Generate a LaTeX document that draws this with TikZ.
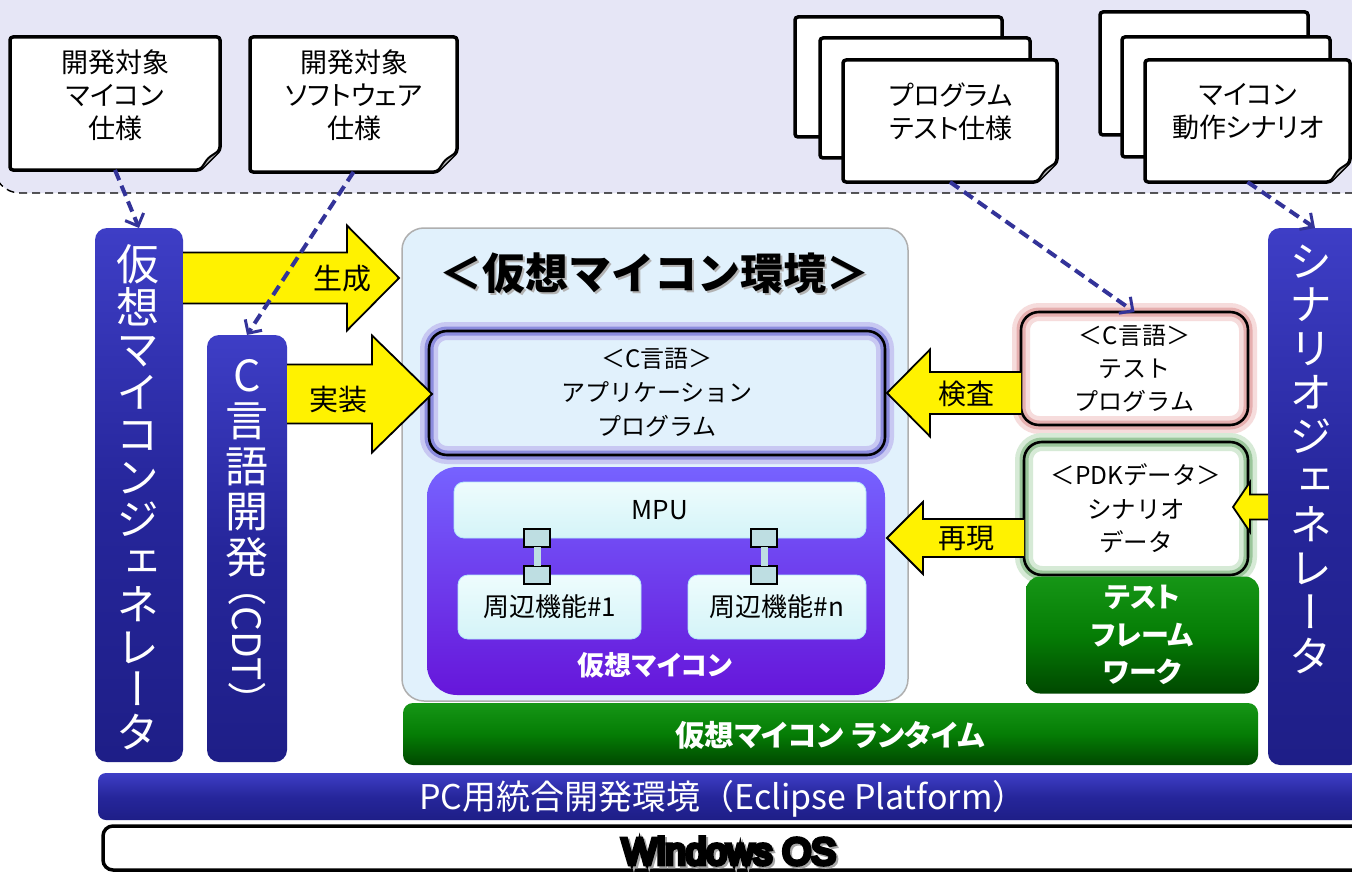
\documentclass[tikz,border=0pt]{standalone}
\usepackage{fontspec}
\setmainfont{Noto Sans CJK JP}[RawFeature=+palt]
\newfontfamily\jpfull{Noto Sans CJK JP}
\newfontfamily\jpv{Noto Sans CJK JP}[RawFeature=+vert]
\newfontfamily\heavy{Liberation Sans}[FakeBold=12]
\usetikzlibrary{arrows.meta,calc}

\definecolor{lav}{RGB}{230,230,246}
\definecolor{dashblue}{RGB}{51,51,153}
\definecolor{barblue}{RGB}{38,38,155}
\definecolor{barbluetop}{RGB}{62,62,198}
\definecolor{barbluebot}{RGB}{30,30,135}
\definecolor{envblue}{RGB}{225,241,252}
\definecolor{envline}{RGB}{175,175,175}
\definecolor{purtop}{RGB}{118,98,255}
\definecolor{purbot}{RGB}{102,22,218}
\definecolor{cyantop}{RGB}{238,252,253}
\definecolor{cyanbot}{RGB}{212,244,248}
\definecolor{conn}{RGB}{190,222,226}
\definecolor{grtop}{RGB}{22,150,22}
\definecolor{grmid}{RGB}{5,125,5}
\definecolor{grbot}{RGB}{0,72,0}
\definecolor{glowblueA}{RGB}{200,200,242}
\definecolor{glowblueB}{RGB}{140,140,222}
\definecolor{glowpinkA}{RGB}{246,220,220}
\definecolor{glowpinkB}{RGB}{230,175,175}
\definecolor{glowgreenA}{RGB}{214,234,214}
\definecolor{glowgreenB}{RGB}{155,198,155}

\newcommand\fs[2]{\fontsize{#1}{#2}\selectfont\lineskiplimit=-100pt\relax}

\newcommand\docshape[1]{%
  \draw[docline] (#1.north west) -- (#1.north east) -- ([yshift=20]#1.south east) -- ([xshift=-20]#1.south east) -- (#1.south west) -- cycle;
  \draw[docline, fill=gray!55, line width=2] ([yshift=20]#1.south east) -- ([xshift=-12,yshift=12]#1.south east) -- ([xshift=-20]#1.south east);
}
\newcommand\rarrow[5]{%
  \path[yarrow] let \p1=(#1), \p2=(#2) in
  (\x1,\y2+#3pt) -- (\x2-#5pt,\y2+#3pt) -- (\x2-#5pt,\y2+#4pt) -- (\x2,\y2) -- (\x2-#5pt,\y2-#4pt) -- (\x2-#5pt,\y2-#3pt) -- (\x1,\y2-#3pt);}
\newcommand\larrow[5]{%
  \path[yarrow] let \p1=(#1), \p2=(#2) in
  (\x1,\y2+#3pt) -- (\x2+#5pt,\y2+#3pt) -- (\x2+#5pt,\y2+#4pt) -- (\x2,\y2) -- (\x2+#5pt,\y2-#4pt) -- (\x2+#5pt,\y2-#3pt) -- (\x1,\y2-#3pt);}

\tikzset{
  docline/.style={draw=black, fill=white, line width=3.5, rounded corners=3, line join=round},
  docnode/.style={inner sep=0, outer sep=0},
  sheet/.style={draw=black, fill=white, line width=3.5, rounded corners=3, inner sep=0, outer sep=0},
  doctext/.style={align=center, font=\fs{27}{33}, inner sep=0},
  vbar/.style={rounded corners=12, top color=barbluetop, bottom color=barbluebot, middle color=barblue, inner sep=0, outer sep=0},
  vtext/.style={align=center, text=white, inner sep=0, font=\jpv\fs{43}{42.5}},
  hbar/.style={rounded corners=8, top color=barbluetop, bottom color=barbluebot, middle color=barblue, inner sep=0, outer sep=0},
  envbox/.style={rounded corners=22, fill=envblue, draw=envline, line width=1.5, inner sep=0, outer sep=0},
  glowbox/.style n args={3}{rounded corners=18, fill=#1, draw=#2, line width=18, inner sep=0, outer sep=0, align=center,
     font=\jpfull\fs{24}{34},
     postaction={draw=#3, line width=9}, postaction={draw=black, line width=2.6}},
  purbox/.style={rounded corners=30, top color=purtop, bottom color=purbot, inner sep=0, outer sep=0},
  cyanbox/.style={rounded corners=10, top color=cyantop, bottom color=cyanbot, draw=white!70!cyan, line width=0.8, inner sep=0, outer sep=0, font=\fs{26}{30}},
  sq/.style={draw=black, fill=conn, line width=1.6, minimum width=26, minimum height=18, inner sep=0, outer sep=0},
  link/.style={draw=conn, line width=7},
  grbox/.style={rounded corners=14, top color=grtop, bottom color=grbot, middle color=grmid, inner sep=0, outer sep=0, text=white, align=center},
  yarrow/.style={fill=yellow, draw=black, line width=1.8, line join=miter},
  ylabel/.style={inner sep=0, font=\fs{29}{30}},
  dasharrow/.style={draw=dashblue, line width=4, dash pattern=on 11pt off 6pt, -{Straight Barb[length=10pt,width=20pt,line width=3pt]}},
  band/.style={fill=lav, draw=black, line width=1.4, dash pattern=on 8pt off 5pt, rounded corners=26}
}

\begin{document}
\begin{tikzpicture}[x=1pt,y=-1pt]
\useasboundingbox (0,0) rectangle (1352,872);
\fill[white] (0,0) rectangle (1352,872);
\draw[band] (-6,-40) rectangle (1400,193);

% documents
\node[docnode, minimum width=210, minimum height=133] (d1) at (115,103.5) {};
\docshape{d1}
\node[doctext] (d1t) at (115,95) {開発対象\\マイコン\\仕様};
\node[docnode, minimum width=207, minimum height=135] (d2) at (353.5,104.5) {};
\docshape{d2}
\node[doctext] (d2t) at (354,95) {開発対象\\ソフトウェア\\仕様};

\node[sheet, minimum width=207, minimum height=120] (s1a) at (898.5,77) {};
\node[sheet, minimum width=210, minimum height=120] (s1b) at (925,98) {};
\node[docnode, minimum width=214, minimum height=122] (s1c) at (950,121) {};
\docshape{s1c}
\node[doctext] (s1t) at (951,112) {プログラム\\テスト仕様};

\node[sheet, minimum width=208, minimum height=123] (s2a) at (1204,73.5) {};
\node[sheet, minimum width=208, minimum height=120] (s2b) at (1226,97) {};
\node[docnode, minimum width=205, minimum height=122] (s2c) at (1247.5,121) {};
\docshape{s2c}
\node[doctext] (s2t) at (1248,112) {マイコン\\動作シナリオ};

% virtual micro environment
\node[envbox, minimum width=506, minimum height=473] (env) at (655,464.5) {};
\node[inner sep=0, text=gray!60, font=\jpfull\bfseries\fs{43}{44}] (envTs) at (656.5,275.5) {＜仮想マイコン環境＞};
\node[inner sep=0, font=\jpfull\bfseries\fs{43}{44}] (envT) at (654,273) {＜仮想マイコン環境＞};
\node[glowbox={envblue}{glowblueA}{glowblueB}, minimum width=456, minimum height=124] (app) at (657,393) {＜C言語＞\\アプリケーション\\プログラム};

\node[purbox, minimum width=458, minimum height=228] (vmc) at (656,581) {};
\node[cyanbox, minimum width=412, minimum height=56] (mpu) at (660,510) {MPU};
\node[cyanbox, minimum width=183, minimum height=64] (p1) at (549.5,607) {周辺機能\#1};
\node[cyanbox, minimum width=178, minimum height=64] (pn) at (777,607) {周辺機能\#n};
\node[sq] (c1a) at (537,538) {};
\node[sq] (c1b) at (537,575) {};
\node[sq] (c2a) at (764,538) {};
\node[sq] (c2b) at (764,575) {};
\draw[link] (c1a.south) -- (c1b.north);
\draw[link] (c2a.south) -- (c2b.north);
\node[inner sep=0, text=white, font=\bfseries\fs{27}{30}] (vmcL) at (655,665) {仮想マイコン};

% right side
\node[glowbox={white}{glowpinkA}{glowpinkB}, minimum width=227, minimum height=113, font=\jpfull\fs{24}{33}] (ctest) at (1134.5,368.5) {＜C言語＞\\テスト\\プログラム};
\node[glowbox={white}{glowgreenA}{glowgreenB}, minimum width=224, minimum height=133, font=\jpfull\fs{24.5}{33.5}] (pdk) at (1136,508.5) {＜PDKデータ＞\\シナリオ\\データ};
\node[grbox, minimum width=233, minimum height=117, font=\bfseries\fs{28}{37.5}] (tfw) at (1142.5,635) {テスト\\フレーム\\ワーク};

% platform layers
\node[grbox, rounded corners=10, minimum width=855, minimum height=62] (rt) at (830.5,734) {};
\node[inner sep=0, text=white, font=\bfseries\fs{29.5}{30}] (rtT) at (830,735) {仮想マイコン ランタイム};
\node[hbar, minimum width=1264, minimum height=47] (pc) at (730,796.5) {};
\node[inner sep=0, text=white, font=\jpfull\fs{34}{36}] (pcT) at (723,799) {PC用統合開発環境（Eclipse Platform）};
\node[draw=black, fill=white, line width=3.5, rounded corners=10, minimum width=1262, minimum height=44, inner sep=0, outer sep=0] (win) at (734,848) {};
\node[inner sep=0, text=gray!70, font=\heavy\fs{37}{38}] (winTs) at (731,853) {Windows OS};
\node[inner sep=0, font=\heavy\fs{37}{38}] (winT) at (729,851) {Windows OS};

% vertical bars
\node[vbar, minimum width=88, minimum height=534] (gen) at (139,495) {};
\node[vtext] (genT) at (138,497) {仮\\想\\マ\\イ\\コ\\ン\\ジ\\ェ\\ネ\\レ\\ー\\タ};
\node[vbar, minimum width=80, minimum height=427] (cdt) at (247,548.5) {};
\node[vtext, font=\jpv\fs{43}{45.5}] (cdtT) at (247,468) {C\\言\\語\\開\\発};
\node[inner sep=0, text=white, rotate=-90, font=\jpfull\fs{39}{40}] (cdtP) at (247,644) {（CDT）};
\node[vbar, minimum width=94, minimum height=537] (scen) at (1315,496.5) {};
\node[vtext, font=\jpv\fs{43}{43.9}] (scenT) at (1311,459) {シ\\ナ\\リ\\オ\\ジ\\ェ\\ネ\\レ\\ー\\タ};

% block arrows
\coordinate (genTip) at (399,278);
\coordinate (impTip) at (432,394);
\coordinate (kenTip) at (887,393);
\coordinate (saiTip) at (887,538);
\coordinate (scTip) at (1233,507);
\rarrow{gen.east}{genTip}{25.5}{52.5}{52}
\node[ylabel] (genL) at (342,279) {生成};
\rarrow{cdt.east}{impTip}{29.5}{58.5}{60}
\node[ylabel] (impL) at (338,400) {実装};
\larrow{ctest.west}{kenTip}{21}{43.5}{43}
\node[ylabel, font=\fs{28}{30}] (kenL) at (966,394) {検査};
\larrow{pdk.west}{saiTip}{19}{36}{36}
\node[ylabel, font=\fs{28}{30}] (saiL) at (966,539) {再現};
\larrow{scen.west}{scTip}{12.5}{25}{17}

% dashed arrows
\draw[dasharrow] (d1.south) -- (gen.north);
\draw[dasharrow] (d2.south) -- (cdt.north);
\draw[dasharrow] (s1c.south) -- (ctest.north);
\draw[dasharrow] (s2c.south) -- (scen.north);
\end{tikzpicture}
\end{document}
